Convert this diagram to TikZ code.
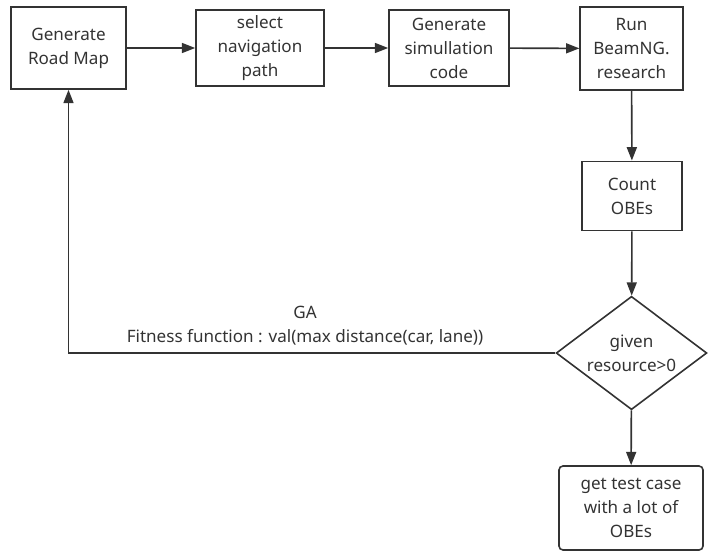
\documentclass[tikz,border=0pt]{standalone}
\usepackage{fontspec}
\setmainfont{Noto Sans}
\usetikzlibrary{arrows.meta,shapes.geometric}
\definecolor{mydark}{RGB}{51,51,51}

\begin{document}
\begin{tikzpicture}[x=0.75pt, y=-0.75pt,
  every node/.style={font=\fontsize{12.8}{18}\selectfont, text=mydark, align=center},
  procbox/.style={draw=mydark, line width=1.2pt, inner sep=0pt},
  decision/.style={draw=mydark, line width=1.2pt, diamond, inner sep=0pt,
                   minimum width=113pt, minimum height=85pt},
  flow/.style={draw=mydark, line width=1.2pt, -{Triangle[length=10pt,width=7.5pt]}}]
  \useasboundingbox (0,0) rectangle (710,560);
  % --- top row of steps ---
  \node[procbox, minimum width=86pt, minimum height=61.5pt] (roadmap) at (68.5,48) {Generate\\Road Map};
  \node[procbox, minimum width=96pt, minimum height=57pt] (navpath) at (260,48) {select\\navigation\\path};
  \node[procbox, minimum width=90pt, minimum height=57pt] (simcode) at (449,48) {Generate\\simullation\\code};
  \node[procbox, minimum width=77pt, minimum height=62pt] (beamng) at (631.5,48.5) {Run\\BeamNG.\\research};
  % --- right column ---
  \node[procbox, minimum width=75pt, minimum height=52pt] (count) at (632,196) {Count\\OBEs};
  \node[decision] (check) at (631.5,353) {};
  \node (checktext) at (check.center) {given\\resource>0};
  \node[procbox, rounded corners=3pt, minimum width=108pt, minimum height=63pt] (result) at (631,508) {get test case\\with a lot of\\OBEs};
  % --- connectors ---
  \draw[flow] (roadmap) -- (navpath);
  \draw[flow] (navpath) -- (simcode);
  \draw[flow] (simcode) -- (beamng);
  \draw[flow] (beamng) -- (count);
  \draw[flow] (count) -- (check);
  \draw[flow] (check) -- (result);
  % --- feedback loop ---
  \draw[flow] (check.west) -| (roadmap.south);
  \node (galabel) at (305,326) {GA\\Fitness function : val(max distance(car, lane))};
\end{tikzpicture}
\end{document}
